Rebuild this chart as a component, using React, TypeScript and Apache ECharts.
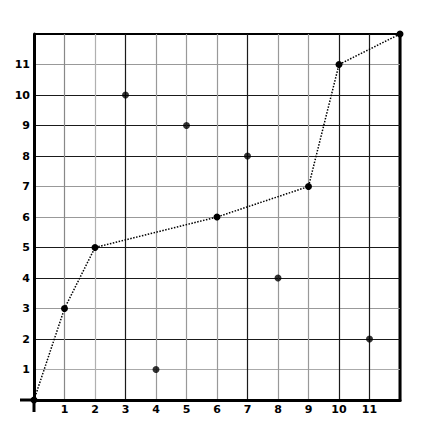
import React, { useEffect, useRef } from "react";
import * as echarts from "echarts";

const pathPoints: [number, number][] = [
  [0, 0], [1, 3], [2, 5], [6, 6], [9, 7], [10, 11], [12, 12],
];
const loosePoints: [number, number][] = [
  [3, 10], [4, 1], [5, 9], [7, 8], [8, 4], [11, 2],
];
const tickValues = [1, 2, 3, 4, 5, 6, 7, 8, 9, 10, 11];

const D = "#1a1a1a";
const G = "#999";
const xGridColors = ["#000", "#888", "#b0b0b0", D, G, G, "#999", D, G, G, D, D, "#000"];
const yGridColors = ["#000", "#aaa", D, G, D, D, G, G, D, D, D, G, "#000"];

export default function App() {
  const ref = useRef<HTMLDivElement>(null);
  useEffect(() => {
    const chart = echarts.init(ref.current!, undefined, { renderer: "svg" });
    const L = 34, T = 34, R = 400, B = 400;
    const labelStyle = {
      fontFamily: "DejaVu Sans",
      fontWeight: "bold" as const,
      fontSize: 11,
      color: "#000",
    };
    chart.setOption({
      animation: false,
      backgroundColor: "#fff",
      grid: { left: L, top: T, right: 436 - R, bottom: 429 - B, containLabel: false },
      xAxis: {
        type: "value",
        min: 0,
        max: 12,
        interval: 1,
        axisLine: { show: true, onZero: false, lineStyle: { color: "#000", width: 3 } },
        axisTick: { show: false },
        axisLabel: {
          ...labelStyle,
          margin: 4,
          formatter: (v: number) => (tickValues.includes(v) ? String(v) : ""),
        },
        splitLine: { show: true, lineStyle: { color: xGridColors, width: 1.2 } },
      },
      yAxis: {
        type: "value",
        min: 0,
        max: 12,
        interval: 1,
        axisLine: { show: true, onZero: false, lineStyle: { color: "#000", width: 3 } },
        axisTick: { show: false },
        axisLabel: {
          ...labelStyle,
          margin: 4,
          formatter: (v: number) => (tickValues.includes(v) ? String(v) : ""),
        },
        splitLine: { show: true, lineStyle: { color: yGridColors, width: 1.2 } },
      },
      graphic: [
        { type: "line", shape: { x1: 20, y1: B, x2: L, y2: B }, style: { stroke: "#000", lineWidth: 3 } },
        { type: "line", shape: { x1: L, y1: B, x2: L, y2: 412 }, style: { stroke: "#000", lineWidth: 3 } },
        { type: "line", shape: { x1: R, y1: T, x2: R, y2: B + 1.5 }, style: { stroke: "#000", lineWidth: 3 } },
        { type: "line", shape: { x1: L, y1: T, x2: R, y2: T }, style: { stroke: "#000", lineWidth: 2 } },
      ],
      series: [
        {
          type: "line",
          data: pathPoints,
          symbol: "circle",
          symbolSize: 7,
          itemStyle: { color: "#000" },
          lineStyle: { color: "#000", width: 1.5, type: [1.5, 1.5] },
          z: 5,
        },
        {
          type: "scatter",
          data: loosePoints,
          symbol: "circle",
          symbolSize: 7,
          itemStyle: { color: "#000" },
          z: 5,
        },
      ],
    });
    return () => chart.dispose();
  }, []);
  return <div ref={ref} style={{ width: 436, height: 429, position: "absolute", left: 0, top: 0 }} />;
}
